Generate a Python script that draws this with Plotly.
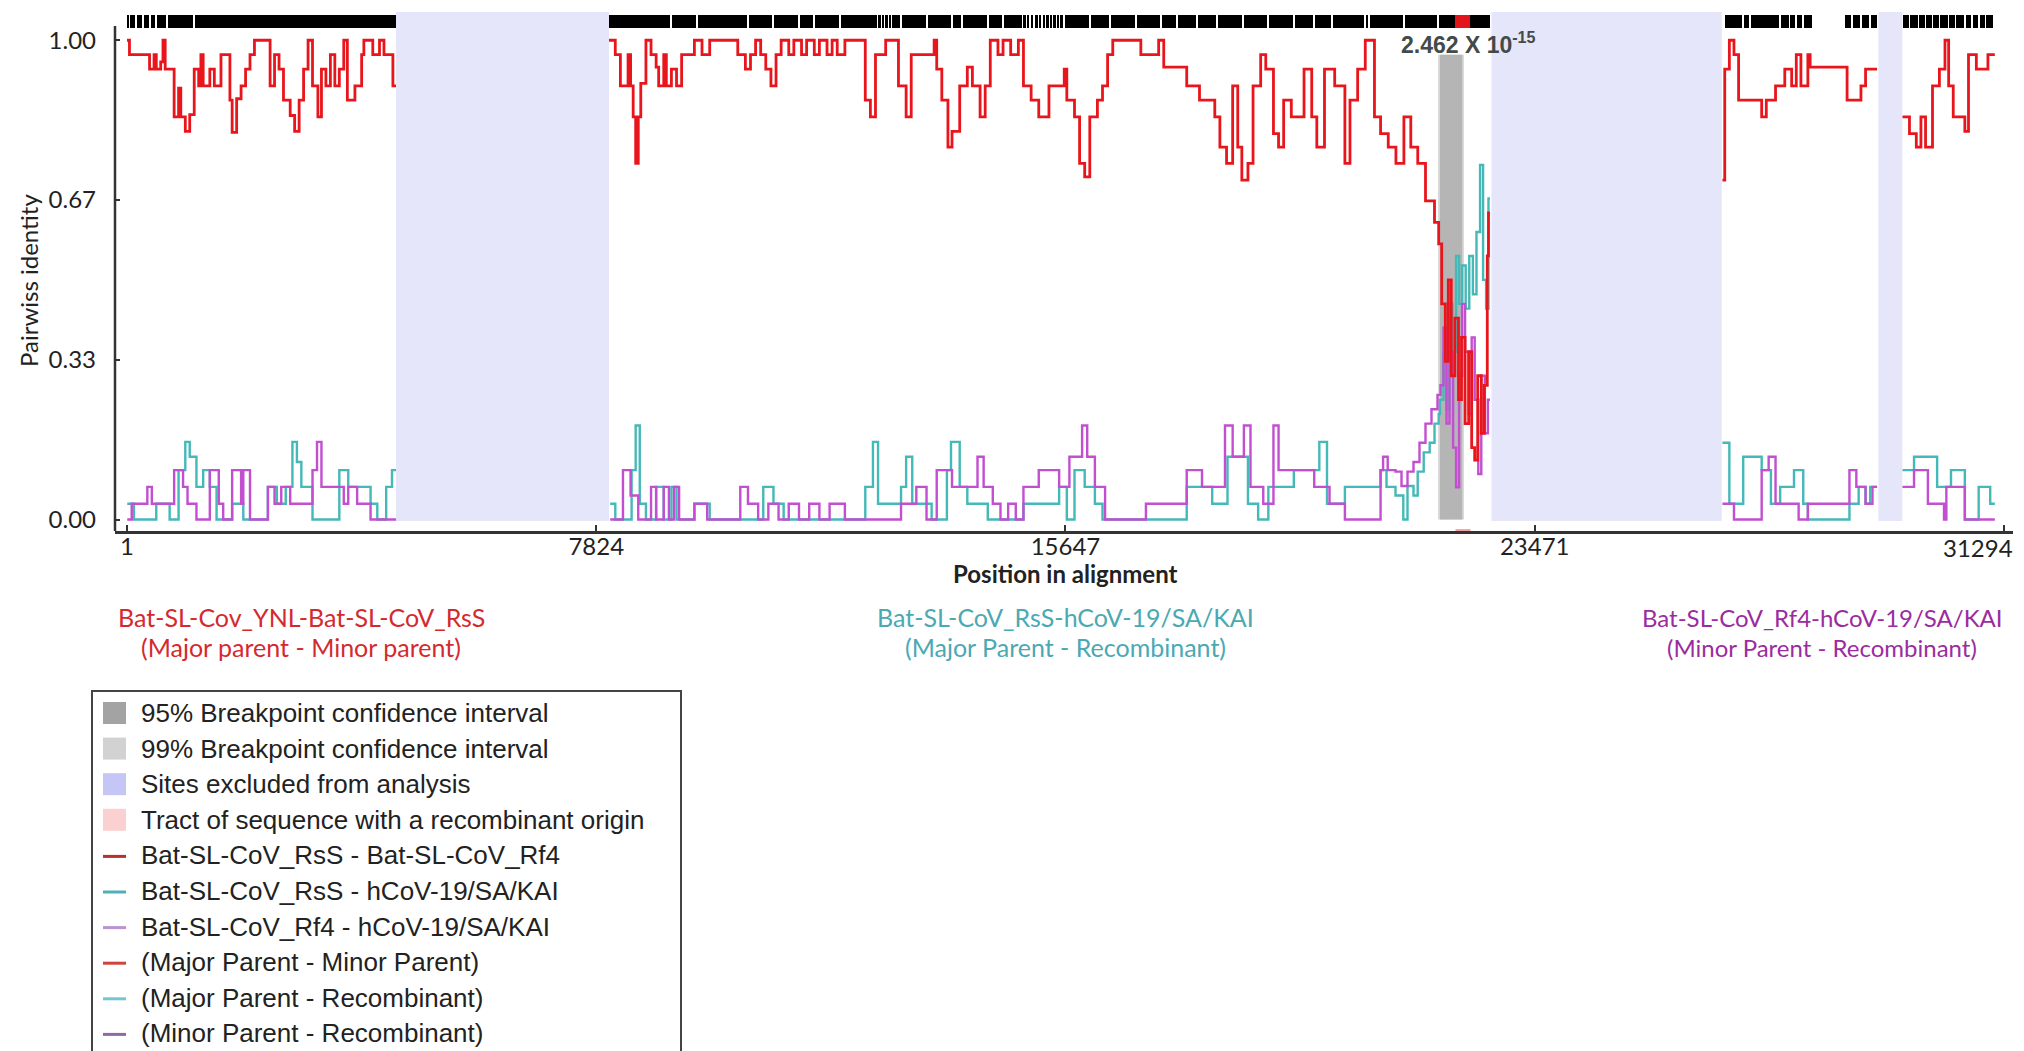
import plotly.graph_objects as go

# ---------------- data ----------------
x_tick_vals = [1, 7824, 15647, 23471, 31294]
x_tick_text = ["1", "7824", "15647", "23471", "31294"]
y_tick_vals = [0, 1 / 3, 2 / 3, 1]
y_tick_text = ["0.00", "0.33", "0.67", "1.00"]

excluded_regions = [(4486, 8037), (22750, 26590), (29200, 29600)]
ci99_region = (21860, 22290)
ci95_region = (21892, 22262)
tract_region = (22150, 22400)
p_value_text = "2.462 X 10<sup>-15</sup>"

site_blocks = [(1, 4486), (8037, 22725), (26639, 28102), (28640, 29180), (29603, 31104)]
site_gaps = [35, 151, 268, 385, 485, 668, 1118, 9071, 9504, 10355, 10771, 11205, 11455,
             11888, 12522, 12580, 12640, 12700, 12739, 12905, 13339, 13756, 13922, 14356,
             14606, 14939, 15000, 15060, 15122, 15206, 15260, 15320, 15380, 15440, 15500,
             15540, 15623, 16056, 16390, 16818, 17239, 17507, 17840, 18173, 18607, 19024,
             19457, 19791, 20090, 20640, 20708, 21291, 21858, 26947, 27063, 27563, 27717,
             27832, 27948, 28756, 28910, 29064, 29719, 29872, 29987, 30103, 30218, 30372,
             30488, 30642, 30757, 30873, 30988]

# Bat-SL-CoV_RsS - Bat-SL-CoV_Rf4 (Major Parent - Minor Parent)
red_pos = [1, 42, 377, 452, 489, 563, 601, 638, 787, 861, 898, 973, 1047, 1122, 1196, 1233,
           1271, 1382, 1457, 1568, 1717, 1754, 1829, 1903, 1978, 2052, 2126, 2387, 2461,
           2536, 2610, 2722, 2796, 2871, 2945, 3020, 3094, 3184, 3243, 3317, 3392, 3466,
           3541, 3615, 3675, 3801, 3913, 3950, 4099, 4211, 4285, 4434, 4486, None,
           8037, 8142, 8227, 8355, 8397, 8440, 8482, 8525, 8567, 8653, 8738, 8823, 8865,
           8950, 8993, 9078, 9163, 9248, 9461, 9588, 9716, 10184, 10311, 10396, 10481,
           10566, 10651, 10737, 10822, 10907, 11034, 11119, 11247, 11332, 11460, 11545,
           11672, 11757, 11842, 11970, 12310, 12395, 12480, 12650, 12863, 12991, 13076,
           13458, 13501, 13586, 13688, 13756, 13884, 14011, 14096, 14224, 14309, 14394,
           14522, 14607, 14734, 14862, 14947, 15075, 15202, 15372, 15627, 15670, 15798,
           15883, 15968, 16053, 16180, 16265, 16350, 16436, 16904, 17201, 17286, 17669,
           17882, 18137, 18222, 18333, 18435, 18520, 18588, 18690, 18775, 18902, 18987,
           19115, 19200, 19285, 19413, 19625, 19753, 19838, 19966, 20136, 20306, 20391,
           20519, 20646, 20799, 20901, 21029, 21157, 21290, 21405, 21521, 21650, 21800,
           21870, 21920, 21980, 22030, 22080, 22140, 22200, 22250, 22310, 22370, 22420,
           22470, 22520, 22580, 22630, 22680, 22700, 22725, None,
           26601, 26639, 26716, 26793, 26870, 27255, 27332, 27486, 27640, 27755, 27832,
           27909, 28025, 28063, 28679, 28910, 28987, 29179, None,
           29603, 29719, 29833, 29910, 29987, 30103, 30218, 30311, 30372, 30449, 30642,
           30703, 30834, 31027, 31142]
red_val = [1.0, 0.97, 0.94, 0.97, 0.94, 0.955, 1.0, 0.94, 0.84, 0.90, 0.84, 0.81, 0.845,
           0.94, 0.905, 0.97, 0.905, 0.94, 0.905, 0.97, 0.875, 0.808, 0.878, 0.905, 0.94,
           0.97, 1.0, 0.905, 0.97, 0.94, 0.875, 0.843, 0.81, 0.875, 0.94, 1.0, 0.905, 0.84,
           0.94, 0.905, 0.97, 0.905, 0.94, 1.0, 0.875, 0.905, 0.97, 1.0, 0.97, 1.0, 0.97,
           0.905, 0.905, None,
           1.0, 0.97, 0.905, 0.97, 0.905, 0.84, 0.743, 0.84, 0.91, 1.0, 0.97, 0.944, 0.905,
           0.97, 0.905, 0.94, 0.905, 0.97, 1.0, 0.97, 1.0, 0.97, 0.94, 0.97, 1.0, 0.97,
           0.94, 0.905, 0.97, 1.0, 0.97, 1.0, 0.97, 1.0, 0.97, 1.0, 0.97, 1.0, 0.97, 1.0,
           0.875, 0.84, 0.97, 1.0, 0.905, 0.84, 0.97, 1.0, 0.94, 0.875, 0.777, 0.81, 0.905,
           0.944, 0.905, 0.84, 0.905, 1.0, 0.97, 1.0, 0.97, 1.0, 0.905, 0.875, 0.84, 0.905,
           0.94, 0.875, 0.84, 0.743, 0.715, 0.84, 0.875, 0.905, 0.97, 1.0, 0.97, 1.0, 0.944,
           0.905, 0.875, 0.84, 0.777, 0.743, 0.905, 0.777, 0.708, 0.743, 0.905, 0.97, 0.94,
           0.805, 0.777, 0.875, 0.84, 0.94, 0.84, 0.777, 0.94, 0.905, 0.743, 0.875, 0.94,
           1.0, 0.84, 0.805, 0.777, 0.743, 0.84, 0.777, 0.743, 0.665, 0.62, 0.575, 0.45,
           0.33, 0.5, 0.3, 0.42, 0.25, 0.38, 0.2, 0.35, 0.15, 0.124, 0.3, 0.18, 0.28, 0.55,
           0.64, 0.64, None,
           0.708, 0.94, 1.0, 0.97, 0.875, 0.84, 0.875, 0.905, 0.94, 0.905, 0.97, 0.905,
           0.97, 0.944, 0.875, 0.905, 0.94, 0.94, None,
           0.84, 0.805, 0.777, 0.84, 0.777, 0.905, 0.94, 1.0, 0.905, 0.84, 0.81, 0.97, 0.94,
           0.97, 0.97]

# Bat-SL-CoV_RsS - hCoV-19/SA/KAI (Major Parent - Recombinant)
teal_pos = [5, 117, 489, 712, 861, 973, 1047, 1159, 1271, 1382, 1494, 1754, 1940, 2350,
            2499, 2648, 2759, 2834, 2908, 3094, 3541, 3690, 4062, 4174, 4322, 4419, 4486,
            None,
            8057, 8142, 8414, 8482, 8550, 8653, 8823, 8950, 9078, 9163, 9461, 9716, 10609,
            10779, 10949, 12310, 12438, 12523, 12906, 12991, 13093, 13416, 13671, 13739,
            13884, 14011, 14352, 14947, 15542, 15670, 15798, 15968, 16138, 16265, 17669,
            18094, 18349, 18690, 18860, 19030, 19455, 19880, 20008, 20306, 20646, 20901,
            21000, 21150, 21280, 21350, 21450, 21520, 21620, 21720, 21800, 21870, 21891,
            21950, 22000, 22050, 22100, 22160, 22210, 22260, 22320, 22380, 22440, 22500,
            22560, 22610, 22660, 22700, 22725, None,
            26601, 26716, 26947, 27255, 27409, 27563, 27794, 27948, 28025, 28718, 28872,
            28987, 29064, 29179, None,
            29603, 29795, 30180, 30411, 30642, 30873, 31065, 31142]
teal_val = [0.033, 0.0, 0.033, 0.0, 0.103, 0.162, 0.131, 0.068, 0.103, 0.068, 0.0, 0.033,
            0.0, 0.068, 0.033, 0.068, 0.162, 0.12, 0.068, 0.0, 0.103, 0.068, 0.033, 0.0,
            0.068, 0.103, 0.103, None,
            0.033, 0.0, 0.103, 0.196, 0.033, 0.0, 0.068, 0.0, 0.068, 0.0, 0.033, 0.0, 0.068,
            0.033, 0.0, 0.068, 0.162, 0.033, 0.068, 0.131, 0.033, 0.0, 0.103, 0.162, 0.068,
            0.033, 0.0, 0.033, 0.068, 0.0, 0.103, 0.068, 0.033, 0.0, 0.068, 0.033, 0.131,
            0.033, 0.0, 0.068, 0.103, 0.162, 0.033, 0.068, 0.068, 0.103, 0.068, 0.05, 0.0,
            0.07, 0.05, 0.1, 0.14, 0.16, 0.2, 0.22, 0.25, 0.35, 0.23, 0.45, 0.35, 0.55, 0.45,
            0.53, 0.44, 0.55, 0.47, 0.6, 0.74, 0.5, 0.44, 0.67, 0.67, None,
            0.16, 0.033, 0.131, 0.103, 0.033, 0.068, 0.103, 0.033, 0.0, 0.033, 0.068, 0.033,
            0.068, 0.068, None,
            0.103, 0.131, 0.068, 0.103, 0.0, 0.068, 0.033, 0.033]

# Bat-SL-CoV_Rf4 - hCoV-19/SA/KAI (Minor Parent - Recombinant)
purple_pos = [5, 80, 340, 415, 787, 936, 1010, 1159, 1382, 1531, 1605, 1754, 1903, 1940,
              2052, 2350, 2461, 2573, 2722, 3094, 3169, 3243, 3615, 3690, 3838, 4062, 4486,
              None,
              8057, 8270, 8397, 8525, 8738, 8823, 8950, 9036, 9121, 9206, 9461, 9674, 10226,
              10354, 10524, 10694, 10864, 11034, 11205, 11375, 11545, 11715, 11970, 12906,
              13161, 13331, 13501, 13756, 14181, 14283, 14436, 14564, 14692, 14819, 14947,
              15202, 15542, 15713, 15925, 16010, 16138, 16308, 16989, 17669, 17924, 18307,
              18435, 18622, 18732, 18945, 19115, 19200, 19795, 20050, 20306, 20901, 20943,
              21020, 21150, 21250, 21350, 21450, 21550, 21650, 21750, 21850, 21900, 21950,
              22000, 22050, 22110, 22160, 22210, 22260, 22310, 22370, 22420, 22470, 22530,
              22580, 22640, 22690, 22725, None,
              26601, 26793, 27255, 27371, 27486, 27871, 28025, 28718, 28833, 28987, 29102,
              29179, None,
              29603, 29795, 30026, 30295, 30334, 30642, 31142]
purple_val = [0.0, 0.033, 0.068, 0.033, 0.103, 0.068, 0.033, 0.0, 0.103, 0.033, 0.0, 0.103,
              0.033, 0.103, 0.0, 0.068, 0.033, 0.068, 0.033, 0.103, 0.162, 0.068, 0.033,
              0.068, 0.033, 0.0, 0.0, None,
              0.0, 0.103, 0.05, 0.0, 0.068, 0.0, 0.068, 0.0, 0.068, 0.0, 0.033, 0.0, 0.068,
              0.033, 0.0, 0.033, 0.0, 0.033, 0.0, 0.033, 0.0, 0.033, 0.0, 0.033, 0.068, 0.0,
              0.103, 0.068, 0.131, 0.068, 0.033, 0.0, 0.033, 0.0, 0.068, 0.103, 0.068, 0.131,
              0.196, 0.131, 0.068, 0.0, 0.033, 0.103, 0.068, 0.196, 0.131, 0.196, 0.068,
              0.033, 0.196, 0.103, 0.068, 0.033, 0.0, 0.103, 0.131, 0.103, 0.1, 0.07, 0.1,
              0.12, 0.16, 0.2, 0.23, 0.26, 0.28, 0.4, 0.2, 0.35, 0.15, 0.067, 0.3, 0.45, 0.35,
              0.22, 0.38, 0.25, 0.095, 0.3, 0.18, 0.25, 0.25, None,
              0.033, 0.0, 0.103, 0.131, 0.033, 0.0, 0.033, 0.103, 0.068, 0.033, 0.068, 0.068,
              None,
              0.068, 0.103, 0.033, 0.0, 0.068, 0.0, 0.0]

series_names = ["Bat-SL-CoV_RsS - hCoV-19/SA/KAI", "Bat-SL-CoV_Rf4 - hCoV-19/SA/KAI",
                "Bat-SL-CoV_RsS - Bat-SL-CoV_Rf4"]

pair_labels = [
    ("Bat-SL-Cov_YNL-Bat-SL-CoV_RsS", "(Major parent - Minor parent)"),
    ("Bat-SL-CoV_RsS-hCoV-19/SA/KAI", "(Major Parent - Recombinant)"),
    ("Bat-SL-CoV_Rf4-hCoV-19/SA/KAI", "(Minor Parent - Recombinant)"),
]

legend_labels = [
    "95% Breakpoint confidence interval",
    "99% Breakpoint confidence interval",
    "Sites excluded from analysis",
    "Tract of sequence with a recombinant origin",
    "Bat-SL-CoV_RsS - Bat-SL-CoV_Rf4",
    "Bat-SL-CoV_RsS - hCoV-19/SA/KAI",
    "Bat-SL-CoV_Rf4 - hCoV-19/SA/KAI",
    "(Major Parent - Minor Parent)",
    "(Major Parent - Recombinant)",
    "(Minor Parent - Recombinant)",
]

# ---------------- styles / layout ----------------
W, H = 2024, 1051
ML, MR, MT, MB = 115, 11, 12, 520
PW = W - ML - MR
PH = H - MT - MB
PLOT_BOTTOM = H - MB

RED = "#e8161c"
TEAL = "#45b8b8"
PURPLE = "#c24fcf"
FONT = "Liberation Sans, Arial, sans-serif"
LABEL_FONT = "Lato, Liberation Sans, sans-serif"


def px_x(px):
    return (px - ML) / PW


def px_y(py):
    return (PLOT_BOTTOM - py) / PH


fig = go.Figure()

# informative-sites bar at the top
seg_mid, seg_w = [], []
GAP = 28
for s, e in site_blocks:
    cur = s
    for g in sorted(site_gaps):
        if s < g < e:
            if g - GAP / 2 > cur:
                seg_mid.append((cur + g - GAP / 2) / 2)
                seg_w.append(g - GAP / 2 - cur)
            cur = g + GAP / 2
    if e > cur:
        seg_mid.append((cur + e) / 2)
        seg_w.append(e - cur)

BAR_BASE, BAR_H = 1.025, 0.028
fig.add_trace(go.Bar(x=seg_mid, y=[BAR_H] * len(seg_mid), width=seg_w, base=BAR_BASE,
                     marker=dict(color="black", line=dict(width=0)),
                     showlegend=False, hoverinfo="skip"))
fig.add_trace(go.Bar(x=[(tract_region[0] + tract_region[1]) / 2], y=[BAR_H],
                     width=[tract_region[1] - tract_region[0]], base=BAR_BASE,
                     marker=dict(color="#e3151b", line=dict(width=0)),
                     showlegend=False, hoverinfo="skip"))

for pos, val, col, name, lw in [(teal_pos, teal_val, TEAL, series_names[0], 2.4),
                                (purple_pos, purple_val, PURPLE, series_names[1], 2.4),
                                (red_pos, red_val, RED, series_names[2], 2.8)]:
    fig.add_trace(go.Scatter(x=pos, y=val, mode="lines", name=name,
                             line=dict(color=col, width=lw, shape="hv"),
                             connectgaps=False, showlegend=False))

shapes = []
for a, b in excluded_regions:
    shapes.append(dict(type="rect", xref="x", yref="y", x0=a, x1=b, y0=-0.003, y1=1.059,
                       fillcolor="#e6e6fa", line=dict(width=0), layer="below"))
shapes.append(dict(type="rect", xref="x", yref="y", x0=ci99_region[0], x1=ci99_region[1],
                   y0=0, y1=0.97, fillcolor="#d6d6d6", line=dict(width=0), layer="below"))
shapes.append(dict(type="rect", xref="x", yref="y", x0=ci95_region[0], x1=ci95_region[1],
                   y0=0, y1=0.97, fillcolor="#b5b5b5", line=dict(width=0), layer="below"))
# y axis line (stops below the sites bar)
shapes.append(dict(type="line", xref="paper", yref="y", x0=0, x1=0, y0=-0.024, y1=1.03,
                   line=dict(color="#333333", width=2.5)))
# recombinant tract mark on the x axis
shapes.append(dict(type="rect", xref="x", yref="y", x0=tract_region[0], x1=tract_region[1],
                   y0=-0.028, y1=-0.02, fillcolor="#f6a0a0", line=dict(width=0)))

annotations = []
annotations.append(dict(x=21200, y=0.994, xref="x", yref="y",
                        text="<b>" + p_value_text + "</b>",
                        showarrow=False, xanchor="left", yanchor="middle",
                        font=dict(family=FONT, size=23, color="#434a4a")))
annotations.append(dict(x=px_x(1065), y=px_y(573), xref="paper", yref="paper",
                        text="<b>Position in alignment</b>", showarrow=False,
                        xanchor="center", yanchor="middle",
                        font=dict(family=LABEL_FONT, size=24, color="#222222")))
annotations.append(dict(x=px_x(28), y=px_y(281), xref="paper", yref="paper",
                        text="Pairwiss identity", textangle=-90, showarrow=False,
                        xanchor="center", yanchor="middle",
                        font=dict(family=LABEL_FONT, size=24, color="#222222")))
# last x tick label is pulled inside the figure edge, as in the original
annotations.append(dict(x=px_x(2015), y=px_y(547), xref="paper", yref="paper",
                        text=x_tick_text[-1], showarrow=False, xanchor="right",
                        yanchor="middle",
                        font=dict(family=LABEL_FONT, size=24, color="#222222")))

pair_cols = ["#d42a2e", "#4aa9b3", "#9b2ca0"]
pair_x = [301, 1065, 1822]
pair_sizes = [25, 25, 24]
for (l1, l2), col, cx, fs in zip(pair_labels, pair_cols, pair_x, pair_sizes):
    for txt, cy in [(l1, 617), (l2, 647)]:
        annotations.append(dict(x=px_x(cx), y=px_y(cy), xref="paper", yref="paper",
                                text=txt, showarrow=False, xanchor="center",
                                yanchor="middle",
                                font=dict(family=LABEL_FONT, size=fs, color=col)))

# custom legend box
shapes.append(dict(type="rect", xref="paper", yref="paper", x0=px_x(92), x1=px_x(681),
                   y0=px_y(1056), y1=px_y(691), line=dict(color="#444444", width=2),
                   fillcolor="rgba(0,0,0,0)"))
legend_swatches = [("box", "#a3a3a3"), ("box", "#d2d2d2"), ("box", "#c6c6f6"),
                   ("box", "#fad0d0"), ("line", "#b8302e"), ("line", "#4fb0b8"),
                   ("line", "#bb92d2"), ("line", "#d0443f"), ("line", "#72c8d0"),
                   ("line", "#8f6aa2")]
row_y0, row_dy = 713, 35.6
for i, (label, (kind, col)) in enumerate(zip(legend_labels, legend_swatches)):
    cy = row_y0 + i * row_dy
    if kind == "box":
        shapes.append(dict(type="rect", xref="paper", yref="paper", x0=px_x(103),
                           x1=px_x(126), y0=px_y(cy + 11), y1=px_y(cy - 11),
                           fillcolor=col, line=dict(width=0)))
    else:
        shapes.append(dict(type="line", xref="paper", yref="paper", x0=px_x(103),
                           x1=px_x(126), y0=px_y(cy + 1), y1=px_y(cy + 1),
                           line=dict(color=col, width=3)))
    annotations.append(dict(x=px_x(139), y=px_y(cy), xref="paper", yref="paper",
                            text=label, showarrow=False, xanchor="left",
                            yanchor="middle",
                            font=dict(family=FONT, size=26, color="#222222")))

x_tick_text_axis = x_tick_text[:-1] + [""]

fig.update_layout(
    width=W, height=H,
    margin=dict(l=ML, r=MR, t=MT, b=MB, pad=0, autoexpand=False),
    paper_bgcolor="white", plot_bgcolor="white",
    barmode="overlay", bargap=0,
    showlegend=False,
    shapes=shapes, annotations=annotations,
    xaxis=dict(range=[-199, 31445], tickvals=x_tick_vals, ticktext=x_tick_text_axis,
               ticks="inside", ticklen=6, tickwidth=2, tickcolor="#333333",
               showline=True, linecolor="#333333", linewidth=2.5, showgrid=False,
               zeroline=False, automargin=False,
               tickfont=dict(family=LABEL_FONT, size=24, color="#222222"),
               ticklabelstandoff=-8),
    yaxis=dict(range=[-0.024, 1.059], tickvals=y_tick_vals, ticktext=y_tick_text,
               ticks="inside", ticklen=5, tickwidth=2, tickcolor="#333333",
               showline=False, showgrid=False, zeroline=False, automargin=False,
               tickfont=dict(family=LABEL_FONT, size=24, color="#222222"),
               ticklabelstandoff=18),
)

fig.write_html("out.html", config={"displayModeBar": False},
               post_script="document.body.style.margin='0';document.body.style.overflow='hidden';")
